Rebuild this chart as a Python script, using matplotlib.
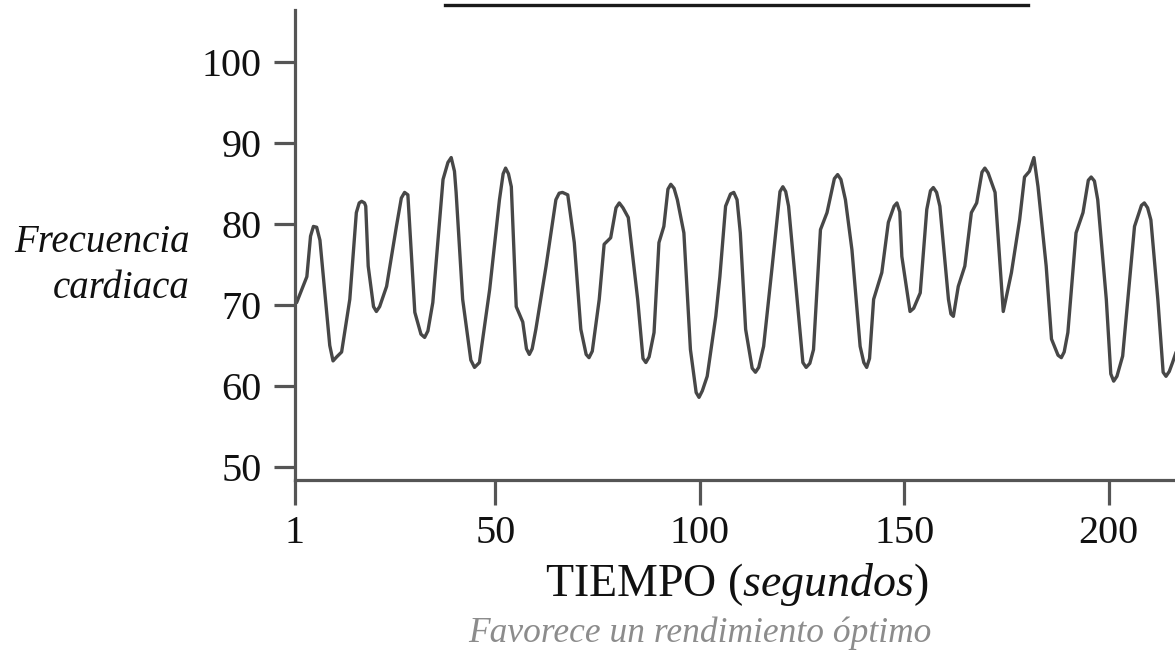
import matplotlib
matplotlib.use("Agg")
import matplotlib.pyplot as plt

plt.rcParams["font.family"] = ["Liberation Serif", "DejaVu Serif"]
plt.rcParams["mathtext.fontset"] = "custom"
plt.rcParams["mathtext.rm"] = "Liberation Serif"
plt.rcParams["mathtext.it"] = "Liberation Serif:italic"

# heart rate trace (time in s, beats/min)
tiempo = [1.4, 3.9, 4.8, 5.5, 6.3, 7.1, 9.5, 10.3, 11.2, 12.4,
          14.4, 16.0, 16.7, 17.3, 18.0, 18.3, 18.9, 20.2, 20.9, 21.7,
          23.4, 25.8, 27.0, 27.8, 28.6, 30.3, 31.8, 32.7, 33.5, 34.7,
          37.2, 38.4, 39.2, 40.0, 40.4, 42.0, 44.0, 44.9, 46.1, 48.6,
          51.0, 51.9, 52.5, 53.2, 53.9, 55.1, 56.7, 57.6, 58.3, 59.0,
          59.9, 62.4, 64.8, 65.6, 66.4, 67.7, 69.3, 70.9, 72.2, 72.9,
          73.7, 75.4, 76.6, 78.2, 79.5, 80.3, 81.2, 82.5, 84.8, 86.1,
          86.8, 87.6, 88.8, 90.0, 91.2, 92.2, 92.9, 93.7, 94.5, 96.1,
          97.7, 99.1, 99.8, 100.6, 101.8, 103.9, 104.9, 106.3, 107.5, 108.3,
          109.1, 109.9, 111.2, 112.8, 113.6, 114.4, 115.6, 117.7, 119.6, 120.3,
          121.0, 121.7, 123.8, 125.2, 126.0, 126.9, 127.8, 129.5, 131.1, 132.9,
          133.7, 134.5, 135.6, 137.2, 139.2, 140.1, 140.8, 141.5, 142.5, 144.5,
          146.1, 147.5, 148.2, 148.9, 149.4, 151.4, 152.3, 153.9, 155.5, 156.4,
          157.1, 157.9, 158.7, 160.8, 161.4, 162.0, 163.2, 164.8, 166.4, 167.7,
          169.0, 169.7, 170.5, 172.2, 174.2, 176.2, 178.2, 179.4, 180.6, 181.7,
          182.7, 184.7, 186.0, 187.6, 188.4, 189.1, 190.0, 192.0, 193.7, 195.0,
          195.7, 196.5, 197.3, 199.4, 200.5, 201.2, 202.0, 203.4, 206.3, 208.0,
          208.7, 209.5, 210.3, 212.0, 213.3, 214.0, 214.8, 215.6, 217.0]
frecuencia = [70.3, 73.5, 78.5, 79.7, 79.6, 78.0, 65.0, 63.1, 63.6, 64.2,
              70.7, 81.4, 82.6, 82.8, 82.6, 82.2, 74.8, 69.8, 69.2, 69.8,
              72.3, 79.7, 83.2, 83.9, 83.6, 69.1, 66.4, 66.0, 66.8, 70.3,
              85.5, 87.6, 88.2, 86.5, 83.9, 70.7, 63.2, 62.3, 62.9, 71.9,
              83.0, 86.2, 86.9, 86.2, 84.6, 69.8, 67.9, 64.6, 63.9, 64.6,
              67.0, 74.8, 83.0, 83.8, 83.9, 83.6, 77.7, 67.0, 63.9, 63.5,
              64.3, 70.7, 77.5, 78.3, 82.0, 82.6, 82.0, 80.8, 70.7, 63.4,
              62.9, 63.6, 66.6, 77.7, 79.7, 84.3, 84.9, 84.4, 83.0, 78.9,
              64.5, 59.2, 58.6, 59.4, 61.2, 68.6, 73.5, 82.2, 83.7, 83.9,
              83.0, 78.9, 67.0, 62.2, 61.7, 62.3, 64.9, 74.8, 84.0, 84.6,
              84.0, 82.2, 70.7, 62.9, 62.3, 62.8, 64.5, 79.3, 81.4, 85.6,
              86.1, 85.5, 83.0, 76.8, 64.9, 62.9, 62.3, 63.4, 70.7, 74.0,
              80.2, 82.2, 82.6, 81.5, 76.0, 69.2, 69.6, 71.5, 81.8, 84.1,
              84.5, 83.9, 82.2, 70.7, 68.9, 68.6, 72.3, 74.8, 81.4, 82.6,
              86.4, 86.9, 86.3, 83.9, 69.2, 74.0, 80.5, 85.8, 86.5, 88.2,
              84.6, 74.8, 65.8, 63.8, 63.5, 64.2, 66.6, 78.9, 81.4, 85.4,
              85.8, 85.3, 83.0, 70.7, 61.5, 60.6, 61.2, 63.7, 79.7, 82.3,
              82.6, 82.0, 80.5, 70.7, 61.7, 61.2, 61.8, 62.9, 65.0]

yticks = [50, 60, 70, 80, 90, 100]
xticks = [1, 50, 100, 150, 200]
barra_inicio, barra_fin = 37.6, 180.3   # bar drawn above the trace

LINE = "#474747"
AXIS = "#555555"
TEXT = "#111111"

fig = plt.figure(figsize=(11.75, 6.56), dpi=100)
ax = fig.add_axes([295 / 1175, 1 - 480 / 656, 1 - 295 / 1175, 480 / 656])

ax.plot(tiempo, frecuencia, color=LINE, linewidth=2.4,
        solid_joinstyle="round", solid_capstyle="round")

ax.set_xlim(1, 216.2)
ax.set_ylim(48.4, 107.65)

for s in ["top", "right"]:
    ax.spines[s].set_visible(False)
for s in ["left", "bottom"]:
    ax.spines[s].set_color(AXIS)
    ax.spines[s].set_linewidth(2.3)
ax.spines["left"].set_bounds(48.4, 106.4)

ax.set_yticks(yticks)
ax.set_xticks(xticks)
ax.tick_params(axis="y", length=15, width=2.3, color=AXIS, pad=9,
               labelsize=29, labelcolor=TEXT)
ax.tick_params(axis="x", length=18, width=2.3, color=AXIS, pad=7,
               labelsize=29, labelcolor=TEXT)

ax.plot([barra_inicio, barra_fin], [107.0, 107.0], color="#1a1a1a",
        linewidth=2.4, clip_on=False)

fig.text(190 / 1175, 1 - 243 / 656, "Frecuencia", ha="right", va="center",
         fontsize=28, style="italic", color=TEXT)
fig.text(190 / 1175, 1 - 289 / 656, "cardiaca", ha="right", va="center",
         fontsize=28, style="italic", color=TEXT)

fig.text(737 / 1175, 1 - 585 / 656, r"TIEMPO ($\mathit{segundos}$)",
         ha="center", va="center", fontsize=33, color=TEXT)
fig.text(700 / 1175, 1 - 633 / 656, "Favorece un rendimiento óptimo",
         ha="center", va="center", fontsize=25.5, style="italic",
         color="#8c8c8c")

fig.savefig("out.png", dpi=100)
